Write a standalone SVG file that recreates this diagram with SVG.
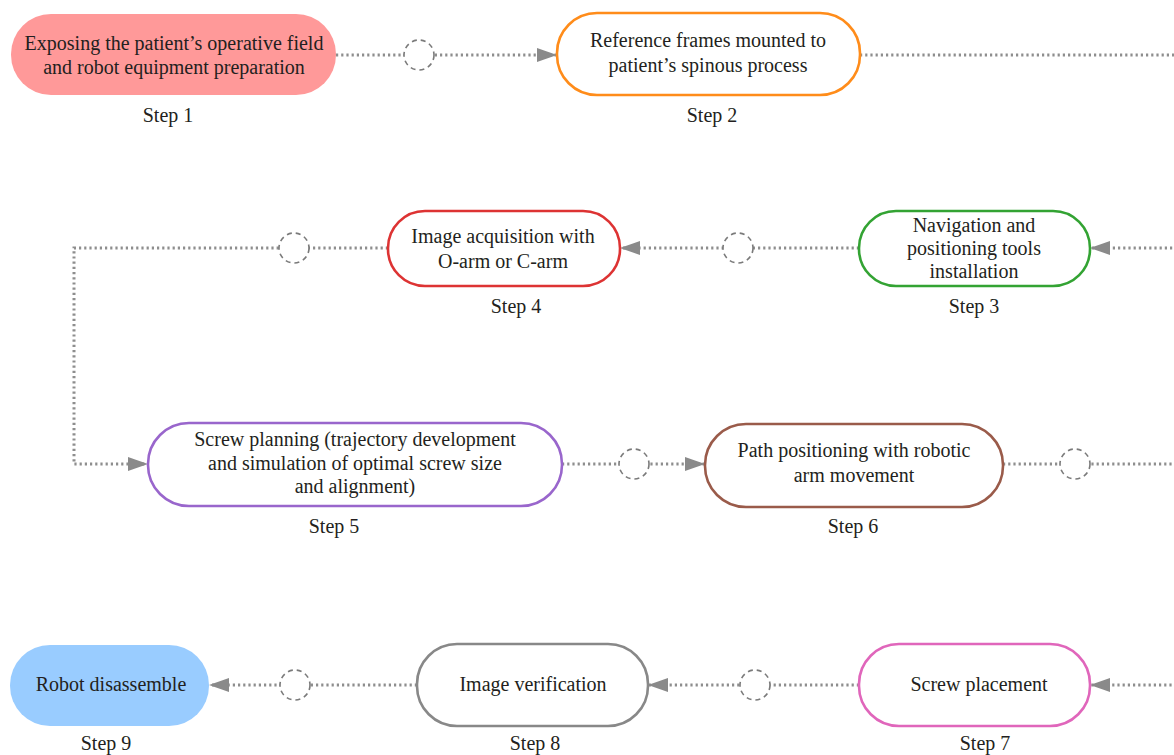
<svg xmlns="http://www.w3.org/2000/svg" width="1174" height="755" viewBox="0 0 1174 755">
<style>
.t{font-family:"Liberation Serif","Times New Roman",serif;font-size:20px;fill:#231f20;text-anchor:middle}
.node{stroke-width:2.6}
.conn{fill:none;stroke:#8e8e8e;stroke-width:3;stroke-dasharray:2.2 3}
.hub{fill:#fff;stroke:#7a7a7a;stroke-width:1.6;stroke-dasharray:5 4}
</style>
<defs>
<marker id="arr" viewBox="0 0 20 14" markerWidth="20" markerHeight="14" markerUnits="userSpaceOnUse" refX="20" refY="7" orient="auto">
<path d="M0,0 L20,7 L0,14 z" fill="#8a8a8a"/>
</marker>
</defs>
<rect width="1174" height="755" fill="#fff"/>
<g id="connectors">
<path class="conn" d="M336,55 H557" marker-end="url(#arr)"/>
<path class="conn" d="M860,55 H1177 V248 H1090" marker-end="url(#arr)"/>
<path class="conn" d="M859,248 H620" marker-end="url(#arr)"/>
<path class="conn" d="M388,248 H74 V464 H148" marker-end="url(#arr)"/>
<path class="conn" d="M562,464 H705" marker-end="url(#arr)"/>
<path class="conn" d="M1003,464 H1177 V685 H1090" marker-end="url(#arr)"/>
<path class="conn" d="M859,685 H648" marker-end="url(#arr)"/>
<path class="conn" d="M417,685 H209" marker-end="url(#arr)"/>
<circle class="hub" cx="419" cy="55" r="15"/>
<circle class="hub" cx="738" cy="248" r="15"/>
<circle class="hub" cx="294" cy="248" r="15"/>
<circle class="hub" cx="634" cy="464" r="15"/>
<circle class="hub" cx="1075" cy="464" r="15"/>
<circle class="hub" cx="755" cy="685" r="15"/>
<circle class="hub" cx="295" cy="685" r="15"/>
</g>
<g id="step1">
<rect x="11" y="14" width="325" height="81" rx="40" fill="#ff9999"/>
<text class="t" x="174" y="50">Exposing the patient’s operative field</text>
<text class="t" x="174" y="74">and robot equipment preparation</text>
<text class="t" x="168" y="122">Step 1</text>
</g>
<g id="step2">
<rect class="node" x="557" y="13" width="303" height="82" rx="40" fill="#fff" stroke="#ff8c1a"/>
<text class="t" x="708" y="47">Reference frames mounted to</text>
<text class="t" x="708" y="72">patient’s spinous process</text>
<text class="t" x="712" y="122">Step 2</text>
</g>
<g id="step3">
<rect class="node" x="859" y="211" width="231" height="75" rx="37" fill="#fff" stroke="#33a333"/>
<text class="t" x="974" y="232">Navigation and</text>
<text class="t" x="974" y="255">positioning tools</text>
<text class="t" x="974" y="278">installation</text>
<text class="t" x="974" y="313">Step 3</text>
</g>
<g id="step4">
<rect class="node" x="388" y="211" width="232" height="75" rx="37" fill="#fff" stroke="#dd3333"/>
<text class="t" x="503" y="243">Image acquisition with</text>
<text class="t" x="503" y="268">O-arm or C-arm</text>
<text class="t" x="516" y="313">Step 4</text>
</g>
<g id="step5">
<rect class="node" x="148" y="423" width="414" height="83" rx="41" fill="#fff" stroke="#9966cc"/>
<text class="t" x="355" y="446">Screw planning (trajectory development</text>
<text class="t" x="355" y="470">and simulation of optimal screw size</text>
<text class="t" x="355" y="493">and alignment)</text>
<text class="t" x="334" y="533">Step 5</text>
</g>
<g id="step6">
<rect class="node" x="705" y="424" width="298" height="83" rx="41" fill="#fff" stroke="#9a5b4a"/>
<text class="t" x="854" y="457">Path positioning with robotic</text>
<text class="t" x="854" y="482">arm movement</text>
<text class="t" x="853" y="533">Step 6</text>
</g>
<g id="step7">
<rect class="node" x="859" y="644" width="231" height="82" rx="40" fill="#fff" stroke="#e066bb"/>
<text class="t" x="979" y="691">Screw placement</text>
<text class="t" x="985" y="750">Step 7</text>
</g>
<g id="step8">
<rect class="node" x="417" y="644" width="231" height="82" rx="40" fill="#fff" stroke="#888888"/>
<text class="t" x="533" y="691">Image verification</text>
<text class="t" x="535" y="750">Step 8</text>
</g>
<g id="step9">
<rect x="10" y="645" width="199" height="81" rx="40" fill="#99ccff"/>
<text class="t" x="111" y="691">Robot disassemble</text>
<text class="t" x="106" y="750">Step 9</text>
</g>
</svg>
